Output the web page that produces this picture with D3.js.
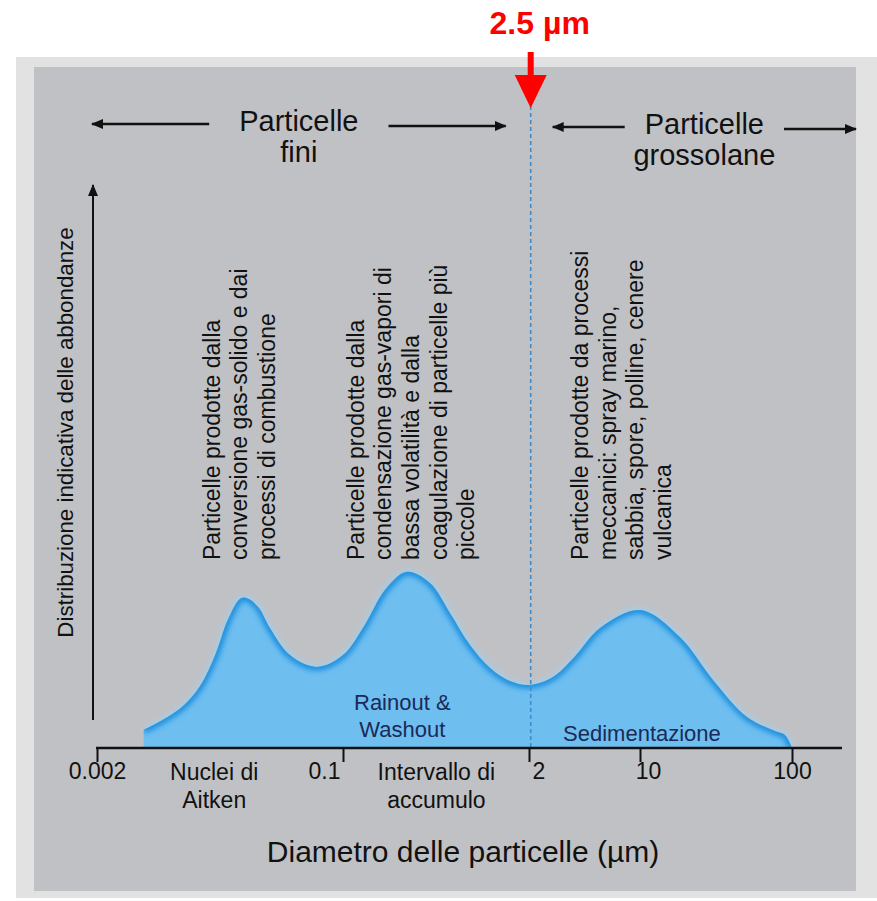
<!DOCTYPE html>
<html>
<head>
<meta charset="utf-8">
<script src="https://cdn.jsdelivr.net/npm/d3@7"></script>
<style>
    body { margin: 0; background: #fff; }
    text { font-family: "Liberation Sans", Arial, sans-serif; }
</style>
</head>
<body>
<script>
// particle size distribution (diameter in um, relative abundance 0-100)
var diameters = [0.0042, 0.0057, 0.0079, 0.0103, 0.0131, 0.0161, 0.0197, 0.0222, 0.0262, 0.0313, 0.043, 0.066,
    0.1, 0.143, 0.197, 0.28, 0.406, 0.56, 0.773, 1.07, 1.47, 2.03, 2.83, 3.9, 5.6, 10,
    18.3, 30.2, 50.6, 77.3, 89.9, 100];
var abundance = [3.2, 5.0, 7.5, 11.0, 16.5, 22.9, 26.6, 26.5, 24.9, 21.3, 16.5, 14.4,
    16.5, 22.0, 28.1, 31.3, 29.3, 24.0, 18.3, 14.2, 11.9, 11.2, 12.6, 16.3, 21.3, 24.5,
    19.7, 12.1, 5.5, 3.0, 2.3, 0];

var tickValues = [0.002, 0.1, 2, 10, 100];
var tickLabels = ["0.002", "0.1", "2", "10", "100"];

var boundaryDiameter = 2.05;
var boundaryLabel = "2.5 \u00b5m";

var modeNames = [["Nuclei di", "Aitken"], ["Intervallo di", "accumulo"]];
var modeCenters = [0.0129, 0.45];

var removalNames = [["Rainout &", "Washout"], ["Sedimentazione"]];
var removalCenters = [0.26, 10.3];

var notes = [
    ["Particelle prodotte dalla", "conversione gas-solido e dai", "processi di combustione"],
    ["Particelle prodotte dalla", "condensazione gas-vapori di", "bassa volatilità e dalla",
        "coagulazione di particelle più", "piccole"],
    ["Particelle prodotte da processi", "meccanici: spray marino,", "sabbia, spore, polline, cenere",
        "vulcanica"]
];
var notePositions = [0.0141, 0.14, 4.7];

var rangeNames = [["Particelle", "fini"], ["Particelle", "grossolane"]];
var yTitle = "Distribuzione indicativa delle abbondanze";
var xTitle = "Diametro delle particelle (\u00b5m)";

var width = 877, height = 901;

var svg = d3.select("body").append("svg")
    .attr("width", width)
    .attr("height", height);

// scanned page background
svg.append("rect").attr("x", 16).attr("y", 57).attr("width", 861).attr("height", 841).attr("fill", "#e2e2e3");
svg.append("rect").attr("x", 34).attr("y", 67).attr("width", 822).attr("height", 824).attr("fill", "#c0c1c4");

// hand drawn axis is roughly logarithmic, piecewise
var x = d3.scaleLog().domain(tickValues).range([97, 343, 529, 640, 792]);
var y = d3.scaleLinear().domain([0, 100]).range([748, 185]);

var defs = svg.append("defs");
defs.append("marker")
    .attr("id", "head")
    .attr("viewBox", "0 0 12 10")
    .attr("refX", 11).attr("refY", 5)
    .attr("markerWidth", 12).attr("markerHeight", 10)
    .attr("markerUnits", "userSpaceOnUse")
    .attr("orient", "auto")
    .append("path").attr("d", "M0,0L12,5L0,10z").attr("fill", "#111");
defs.append("filter").attr("id", "blur")
    .attr("x", "-10%").attr("y", "-10%").attr("width", "120%").attr("height", "120%")
    .append("feGaussianBlur").attr("stdDeviation", 2.5);

var points = diameters.map(function(d, i) { return [d, abundance[i]]; });

var curve = d3.curveCatmullRom.alpha(0.5);
var area = d3.area()
    .x(function(d) { return x(d[0]); })
    .y0(y(0))
    .y1(function(d) { return y(d[1]); })
    .curve(curve);
var line = d3.line()
    .x(function(d) { return x(d[0]); })
    .y(function(d) { return y(d[1]); })
    .curve(curve);

defs.append("clipPath").attr("id", "area-clip")
    .append("path").attr("d", area(points));

// soft halo, fill and darker inner edge
svg.append("path").attr("d", line(points))
    .attr("fill", "none").attr("stroke", "#a6cde8").attr("stroke-width", 5)
    .attr("filter", "url(#blur)");
svg.append("path").attr("d", area(points)).attr("fill", "#6ebef0");
svg.append("path").attr("d", line(points))
    .attr("fill", "none").attr("stroke", "#2192de").attr("stroke-width", 8)
    .attr("filter", "url(#blur)")
    .attr("clip-path", "url(#area-clip)");

// boundary fine / coarse
var bx = x(boundaryDiameter);
svg.append("line")
    .attr("x1", bx).attr("x2", bx)
    .attr("y1", 106).attr("y2", y(0) + 2)
    .attr("stroke", "#3f8acb").attr("stroke-width", 1.6)
    .attr("stroke-dasharray", "4,3");

// x axis
var xAxis = d3.axisBottom(x)
    .tickValues(tickValues)
    .tickFormat(function(d, i) { return tickLabels[i]; })
    .tickSizeInner(14).tickSizeOuter(0).tickPadding(1);
var gx = svg.append("g").attr("transform", "translate(0," + y(0) + ")").call(xAxis);
gx.select(".domain").remove();
gx.selectAll(".tick line").attr("stroke", "#111").attr("stroke-width", 2);
var tickAnchor = ["middle", "end", "start", "middle", "middle"];
var tickShift = ["0", "-0.13em", "0.13em", "0.35em", "0"];
gx.selectAll(".tick text")
    .attr("font-size", 23).attr("fill", "#111")
    .attr("font-family", null)
    .attr("text-anchor", function(d, i) { return tickAnchor[i]; })
    .attr("dx", function(d, i) { return tickShift[i]; });
svg.append("line")
    .attr("x1", x(0.002) - 1).attr("x2", x(100) + 50)
    .attr("y1", y(0)).attr("y2", y(0))
    .attr("stroke", "#111").attr("stroke-width", 2.5);

// y axis arrow
svg.append("line")
    .attr("x1", x(0.002) - 4).attr("x2", x(0.002) - 4)
    .attr("y1", y(0) - 28).attr("y2", y(100))
    .attr("stroke", "#111").attr("stroke-width", 2)
    .attr("marker-end", "url(#head)");
svg.append("text")
    .attr("transform", "translate(73," + ((y(0) + y(100)) / 2 - 34) + ") rotate(-90)")
    .attr("text-anchor", "middle")
    .attr("font-size", 22.3).attr("fill", "#111")
    .text(yTitle);

// x title
svg.append("text")
    .attr("x", 463).attr("y", 862)
    .attr("text-anchor", "middle")
    .attr("font-size", 30).attr("fill", "#111")
    .text(xTitle);

// mode names under the axis
modeNames.forEach(function(lines, i) {
    lines.forEach(function(t, j) {
        svg.append("text")
            .attr("x", x(modeCenters[i])).attr("y", 780 + j * 28)
            .attr("text-anchor", "middle")
            .attr("font-size", 23).attr("fill", "#111")
            .text(t);
    });
});

// removal processes inside the curve
removalNames.forEach(function(lines, i) {
    var base = lines.length > 1 ? 710 : 741;
    lines.forEach(function(t, j) {
        svg.append("text")
            .attr("x", x(removalCenters[i])).attr("y", base + j * 27)
            .attr("text-anchor", "middle")
            .attr("font-size", 22).attr("fill", "#1b2a56")
            .text(t);
    });
});

// vertical notes above each mode
notes.forEach(function(lines, i) {
    lines.forEach(function(t, j) {
        svg.append("text")
            .attr("transform", "translate(" + (x(notePositions[i]) + j * 27.6) + ",560) rotate(-90)")
            .attr("font-size", 23).attr("fill", "#111")
            .text(t);
    });
});

// fine / coarse ranges with arrows
var spans = [[x(0.002) - 5, bx - 25, 124], [bx + 22, 856, 127]];
rangeNames.forEach(function(lines, i) {
    var s = spans[i], cx = (s[0] + s[1]) / 2;
    var label = svg.append("g");
    lines.forEach(function(t, j) {
        label.append("text")
            .attr("x", cx).attr("y", s[2] + 7 + j * 31)
            .attr("text-anchor", "middle")
            .attr("font-size", 29).attr("fill", "#111")
            .text(t);
    });
    var half = label.select("text").node().getComputedTextLength() / 2;
    var gap = i === 0 ? 30 : 20;
    svg.append("line")
        .attr("x1", cx - half - gap).attr("x2", s[0])
        .attr("y1", s[2]).attr("y2", s[2])
        .attr("stroke", "#111").attr("stroke-width", 2.5)
        .attr("marker-end", "url(#head)");
    svg.append("line")
        .attr("x1", cx + half + gap).attr("x2", s[1])
        .attr("y1", s[2] + 2).attr("y2", s[2] + 2)
        .attr("stroke", "#111").attr("stroke-width", 2.5)
        .attr("marker-end", "url(#head)");
});

// red annotation
svg.append("text")
    .attr("x", bx + 9).attr("y", 34)
    .attr("text-anchor", "middle")
    .attr("font-size", 32).attr("font-weight", "bold").attr("fill", "#ff0000")
    .text(boundaryLabel);
svg.append("path")
    .attr("d", "M" + (bx - 3) + ",52H" + (bx + 3) + "V75H" + (bx + 16) + "L" + bx + ",108L" + (bx - 16) + ",75H" + (bx - 3) + "Z")
    .attr("fill", "#ff0000");
</script>
</body>
</html>
